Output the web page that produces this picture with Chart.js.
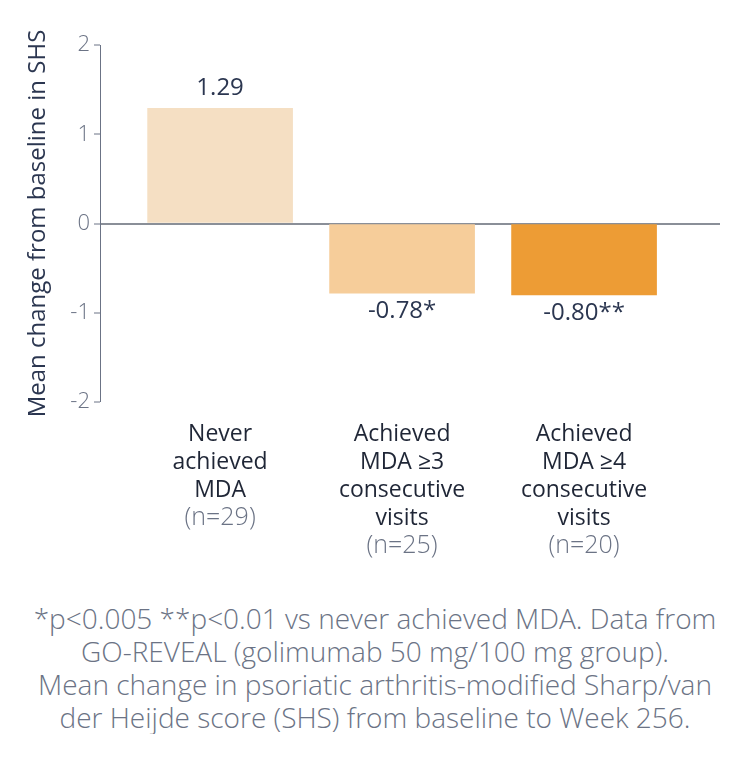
<!DOCTYPE html>
<html>
<head>
<meta charset="utf-8">
<script src="https://cdn.jsdelivr.net/npm/chart.js@4"></script>
<style>
  body { margin: 0; background: #fff; font-family: "Open Sans", sans-serif; }
  #wrap { position: relative; width: 750px; height: 590px; }
  #note { width: 750px; text-align: center; color: #6b7385; font-size: 28px; font-weight: 300; line-height: 33px; margin-top: 12px; }
</style>
</head>
<body>
<div id="wrap"><canvas id="myChart"></canvas></div>
<div id="note">*p&lt;0.005 **p&lt;0.01 vs never achieved MDA. Data from<br>GO-REVEAL (golimumab 50 mg/100 mg group).<br>Mean change in psoriatic arthritis-modified Sharp/van<br>der Heijde score (SHS) from baseline to Week 256.</div>
<script>
// donnees du graphique
const categories = [
    ["Never", "achieved", "MDA"],
    ["Achieved", "MDA \u22653", "consecutive", "visits"],
    ["Achieved", "MDA \u22654", "consecutive", "visits"]
];
const nLabels = ["(n=29)", "(n=25)", "(n=20)"];
const values = [1.29, -0.78, -0.80];
const valueLabels = ["1.29", "-0.78*", "-0.80**"];
const yTicks = [2, 1, 0, -1, -2];
const barColors = ["#f5dfc3", "#f6cd9a", "#ed9c35"];

const dark = "#2b3650";
const grey = "#6b7385";
const fontName = "'Open Sans'";

// labels des barres + categories sous le graphique
const labelPlugin = {
    id: 'labelPlugin',
    afterDatasetsDraw(chart) {
        const ctx = chart.ctx;
        const meta = chart.getDatasetMeta(0);
        const xScale = chart.scales.x;
        ctx.save();
        ctx.textAlign = 'center';
        ctx.textBaseline = 'middle';
        meta.data.forEach((bar, i) => {
            ctx.fillStyle = dark;
            ctx.font = '400 24px ' + fontName;
            if (values[i] >= 0) {
                ctx.fillText(valueLabels[i], bar.x, bar.y - 20);
            } else {
                ctx.fillText(valueLabels[i], bar.x, bar.y + 18);
            }
            const cx = xScale.getPixelForValue(i);
            let y = 434;
            categories[i].forEach(line => {
                ctx.font = '500 23px ' + fontName;
                ctx.fillStyle = '#1f2636';
                ctx.fillText(line, cx, y);
                y += 28;
            });
            ctx.font = '300 25px ' + fontName;
            ctx.fillStyle = grey;
            ctx.fillText(nLabels[i], cx, y);
        });
        ctx.restore();
    }
};

const data = {
    datasets: [{
        data: values.map((v, i) => ({ x: i, y: v })),
        backgroundColor: barColors,
        borderWidth: 0,
        barThickness: 145
    }]
};

const config = {
    type: 'bar',
    data: data,
    options: {
        responsive: true,
        maintainAspectRatio: false,
        animation: false,
        layout: { padding: { top: 45, bottom: 188, right: 30, left: 0 } },
        plugins: { legend: { display: false }, tooltip: { enabled: false } },
        scales: {
            x: {
                type: 'linear',
                display: false,
                offset: false,
                min: -0.66,
                max: 2.747
            },
            y: {
                min: -2,
                max: 2,
                afterFit: (scale) => { scale.width = 100; },
                afterBuildTicks: (axis) => { axis.ticks = yTicks.map(v => ({ value: v })); },
                border: { display: true, color: '#6b7385', width: 1 },
                grid: {
                    color: (c) => c.tick && c.tick.value === 0 ? '#8a8f98' : 'rgba(0,0,0,0)',
                    lineWidth: (c) => c.tick && c.tick.value === 0 ? 2 : 0,
                    tickColor: '#6b7385',
                    tickLength: 6,
                    tickWidth: 1,
                    drawTicks: true
                },
                ticks: {
                    color: grey,
                    font: { family: fontName, size: 22, weight: 300 },
                    padding: 4
                },
                title: {
                    display: true,
                    text: 'Mean change from baseline in SHS',
                    color: dark,
                    font: { family: fontName, size: 24 },
                    padding: { top: 24, bottom: 0 }
                }
            }
        }
    },
    plugins: [labelPlugin]
};

const myChart = new Chart(document.getElementById('myChart'), config);
</script>
</body>
</html>
